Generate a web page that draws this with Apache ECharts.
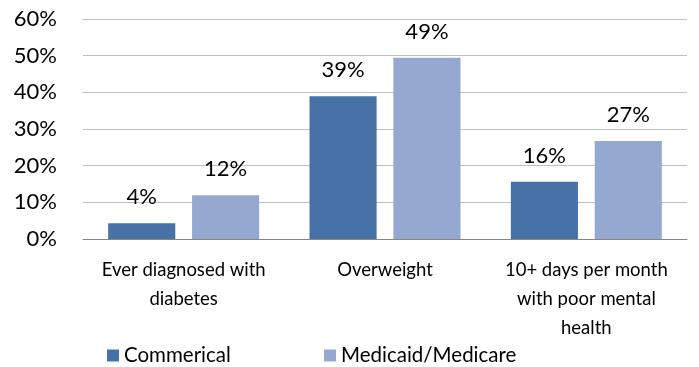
<!DOCTYPE html>
<html>
<head>
<meta charset="utf-8">
<script src="https://cdn.jsdelivr.net/npm/echarts@6/dist/echarts.min.js"></script>
<style>
  html, body { margin: 0; padding: 0; background: #fff; }
  #chart { width: 699px; height: 367px; }
</style>
</head>
<body>
<div id="chart"></div>
<script>
// Health indicators by insurance type (percent of members)
const categories = [
  'Ever diagnosed with\ndiabetes',
  'Overweight',
  '10+ days per month\nwith poor mental\nhealth'
];
const seriesNames = ['Commerical', 'Medicaid/Medicare'];
const commercial = [4.3, 38.9, 15.6];
const medicaid = [11.9, 49.4, 26.7];
const yTicks = [0, 10, 20, 30, 40, 50, 60];

const FONT = 'Lato, "Open Sans", sans-serif';
const colors = ['#4672A8', '#95A9D0'];

const chart = echarts.init(document.getElementById('chart'));

const labelStyle = {
  show: true,
  position: 'top',
  distance: 15,
  color: '#000',
  fontFamily: FONT,
  fontSize: 22,
  formatter: p => Math.round(p.value) + '%'
};

const legendText = { fontFamily: FONT, fontSize: 20.5, color: '#000' };

chart.setOption({
  animation: false,
  textStyle: { fontFamily: FONT },
  grid: { left: 83, right: 12, top: 19, bottom: 128, containLabel: false },
  legend: [
    {
      data: [seriesNames[0]],
      left: 102, top: 340,
      itemWidth: 12, itemHeight: 12, itemGap: 8,
      icon: 'rect',
      textStyle: legendText
    },
    {
      data: [seriesNames[1]],
      left: 319, top: 340,
      itemWidth: 12, itemHeight: 12, itemGap: 8,
      icon: 'rect',
      textStyle: legendText
    }
  ],
  xAxis: {
    type: 'category',
    data: categories,
    axisTick: { show: false },
    axisLine: { show: true, lineStyle: { color: '#868686', width: 1 } },
    axisLabel: {
      color: '#000',
      fontFamily: FONT,
      fontSize: 18.5,
      lineHeight: 29,
      margin: 17,
      interval: 0
    }
  },
  yAxis: {
    type: 'value',
    min: yTicks[0],
    max: yTicks[yTicks.length - 1],
    interval: yTicks[1] - yTicks[0],
    axisLine: { show: false },
    axisTick: { show: false },
    splitLine: { lineStyle: { color: '#BFBFBF', width: 1 } },
    axisLabel: {
      color: '#000',
      fontFamily: FONT,
      fontSize: 22,
      margin: 26,
      formatter: v => v + '%'
    }
  },
  series: [
    {
      name: seriesNames[0],
      type: 'bar',
      data: commercial,
      itemStyle: { color: colors[0] },
      barGap: '25%',
      barCategoryGap: '25%',
      label: labelStyle
    },
    {
      name: seriesNames[1],
      type: 'bar',
      data: medicaid,
      itemStyle: { color: colors[1] },
      barGap: '25%',
      barCategoryGap: '25%',
      label: labelStyle
    }
  ]
});
</script>
</body>
</html>
